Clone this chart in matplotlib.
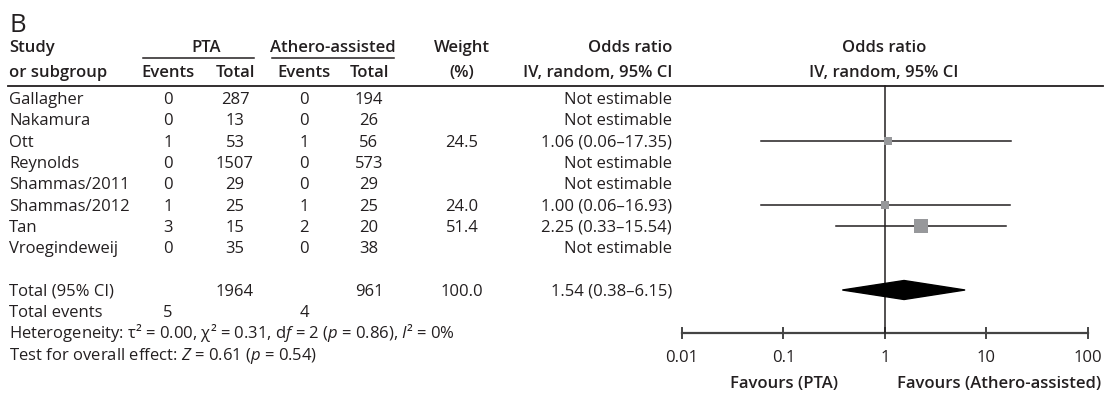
import numpy as np
import matplotlib
matplotlib.use('Agg')
import matplotlib.pyplot as plt
from matplotlib.patches import Polygon

plt.rcParams['font.family'] = ['Open Sans', 'DejaVu Sans']
plt.rcParams['mathtext.fontset'] = 'custom'
plt.rcParams['mathtext.rm'] = 'Open Sans'
plt.rcParams['mathtext.it'] = 'Open Sans:italic'
plt.rcParams['mathtext.bf'] = 'Open Sans:bold'

# data
studies = ['Gallagher', 'Nakamura', 'Ott', 'Reynolds', 'Shammas/2011',
           'Shammas/2012', 'Tan', 'Vroegindeweij']
pta_events = [0, 0, 1, 0, 0, 1, 3, 0]
pta_total = [287, 13, 53, 1507, 29, 25, 15, 35]
ath_events = [0, 0, 1, 0, 0, 1, 2, 0]
ath_total = [194, 26, 56, 573, 29, 25, 20, 38]
weights = [None, None, 24.5, None, None, 24.0, 51.4, None]
or_est = [None, None, 1.06, None, None, 1.00, 2.25, None]
ci_low = [None, None, 0.06, None, None, 0.06, 0.33, None]
ci_high = [None, None, 17.35, None, None, 16.93, 15.54, None]

total_pta = 1964
total_ath = 961
events_pta = 5
events_ath = 4
total_weight = 100.0
pooled = 1.54
pooled_low = 0.38
pooled_high = 6.15

axis_ticks = [0.01, 0.1, 1, 10, 100]
axis_labels = ['0.01', '0.1', '1', '10', '100']

TXT = '#231f20'
FS = 12
CAP = 6.0  # half cap height in px, to centre text on a row
W, H = 1107, 394

fig = plt.figure(figsize=(W / 100, H / 100), dpi=100)
ax = fig.add_axes([0, 0, 1, 1])
ax.set_xlim(0, W)
ax.set_ylim(H, 0)
ax.axis('off')

# forest panel axes, log scale
fx0, fx1 = 682, 1088
fax = fig.add_axes([fx0 / W, 0, (fx1 - fx0) / W, 1])
fax.set_xscale('log')
fax.set_xlim(0.01, 100)
fax.set_ylim(H, 0)
fax.axis('off')

def t(x, y, s, ha='left', bold=False, size=FS):
    ax.text(x, y + CAP, s, ha=ha, va='baseline', fontsize=size, color=TXT,
            fontweight='semibold' if bold else 'normal')

# column x positions
x_name = 9
x_pe, x_pt, x_ae, x_at = 168, 235, 304, 369
x_w = 462
x_or = 672

ax.text(9, 31.7, 'B', ha='left', va='baseline', fontsize=18.5, color=TXT,
        fontweight='medium')

h1, h2 = 45.5, 71
t(x_name, h1, 'Study', bold=True)
t(x_name, h2, 'or subgroup', bold=True)
t(206, h1, 'PTA', ha='center', bold=True)
t(333, h1, 'Athero-assisted', ha='center', bold=True)
ax.plot([143, 254], [57.5, 57.5], color=TXT, lw=1.1)
ax.plot([272, 394], [57.5, 57.5], color=TXT, lw=1.1)
t(x_pe, h2, 'Events', ha='center', bold=True)
t(x_pt, h2, 'Total', ha='center', bold=True)
t(x_ae, h2, 'Events', ha='center', bold=True)
t(x_at, h2, 'Total', ha='center', bold=True)
t(x_w, h1, 'Weight', ha='center', bold=True)
t(x_w, h2, '(%)', ha='center', bold=True)
t(x_or, h1, 'Odds ratio', ha='right', bold=True)
t(x_or, h2, 'IV, random, 95% CI', ha='right', bold=True)
t(884, h1, 'Odds ratio', ha='center', bold=True)
t(884, h2, 'IV, random, 95% CI', ha='center', bold=True)

line_y = 86
ax.plot([8, 1103], [line_y, line_y], color=TXT, lw=1.3)

row0, step = 98, 21.3
gray = '#97989b'
for i, name in enumerate(studies):
    y = row0 + i * step
    t(x_name, y, name)
    t(x_pe, y, str(pta_events[i]), ha='center')
    t(x_pt, y, str(pta_total[i]), ha='center')
    t(x_ae, y, str(ath_events[i]), ha='center')
    t(x_at, y, str(ath_total[i]), ha='center')
    if or_est[i] is None:
        t(x_or, y, 'Not estimable', ha='right')
        continue
    t(x_w, y, f'{weights[i]:.1f}', ha='center')
    t(x_or, y, f'{or_est[i]:.2f} ({ci_low[i]:.2f}\u2013{ci_high[i]:.2f})', ha='right')
    fax.plot([ci_low[i], ci_high[i]], [y, y], color=TXT, lw=1.1)
    ms = 5.3 * (weights[i] / 24.5) ** 0.8
    fax.plot(or_est[i], y, marker='s', ms=ms, color=gray, mec=gray, mew=0, zorder=5)

ytot = 290
t(x_name, ytot, 'Total (95% CI)')
t(x_pt, ytot, str(total_pta), ha='center')
t(x_at, ytot, str(total_ath), ha='center')
t(x_w, ytot, f'{total_weight:.1f}', ha='center')
t(x_or, ytot, f'{pooled:.2f} ({pooled_low:.2f}\u2013{pooled_high:.2f})', ha='right')
t(x_name, 311, 'Total events')
t(x_pe, 311, str(events_pta), ha='center')
t(x_ae, 311, str(events_ath), ha='center')
t(x_name, 332.5, 'Heterogeneity: \u03c4\u00b2 = 0.00, \u03c7\u00b2 = 0.31, d$f$ = 2 ($p$ = 0.86), $I$\u00b2 = 0%')
t(x_name, 353.5, 'Test for overall effect: $Z$ = 0.61 ($p$ = 0.54)')

diamond = Polygon([(pooled_low, ytot), (pooled, ytot - 9.5), (pooled_high, ytot),
                   (pooled, ytot + 9.5)], closed=True, color='black', zorder=4)
fax.add_patch(diamond)

# axis
axis_y = 333
fax.plot([0.01, 100], [axis_y, axis_y], color='#444444', lw=1.6, clip_on=False)
fax.plot([1, 1], [line_y, axis_y], color=TXT, lw=1.1, zorder=3)
for v, lab in zip(axis_ticks, axis_labels):
    fax.plot([v, v], [axis_y - 5, axis_y + 5], color='#444444', lw=1.4, clip_on=False)
    fax.text(v, 356 + CAP, lab, ha='center', va='baseline', fontsize=FS, color=TXT,
             clip_on=False)

t(784, 382, 'Favours (PTA)', ha='center', bold=True)
t(999, 382, 'Favours (Athero-assisted)', ha='center', bold=True)

fig.savefig('out.png', dpi=100)
